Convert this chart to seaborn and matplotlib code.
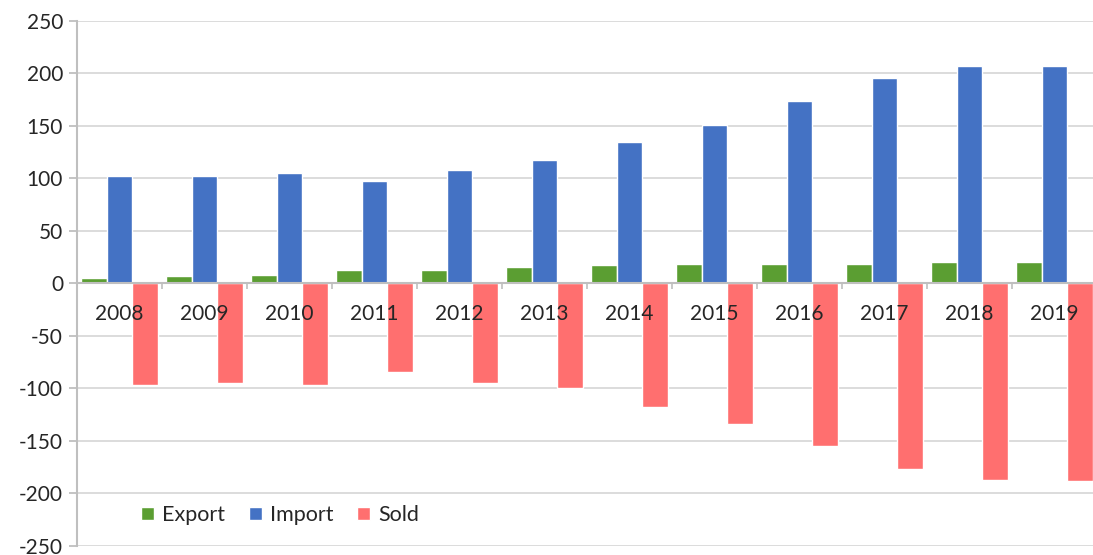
import numpy as np
import pandas as pd
import matplotlib
matplotlib.use("Agg")
import matplotlib.pyplot as plt
import seaborn as sns

years = ["2008", "2009", "2010", "2011", "2012", "2013", "2014", "2015", "2016", "2017", "2018", "2019"]
export_vals = [5, 7, 8, 13, 13, 16, 17, 18, 18, 18, 20, 20]
import_vals = [102, 102, 105, 97, 108, 117, 135, 151, 174, 195, 207, 207]
sold_vals = [-97, -95, -97, -84, -95, -100, -118, -134, -155, -177, -187, -188]
series_names = ["Export", "Import", "Sold"]
colors = ["#5B9E32", "#4472C4", "#FF6F6F"]

df = pd.DataFrame({
    "Year": years * 3,
    "Value": export_vals + import_vals + sold_vals,
    "Series": [series_names[0]] * 12 + [series_names[1]] * 12 + [series_names[2]] * 12,
})

sns.set_theme(style="white")
plt.rcParams["font.family"] = ["Lato", "DejaVu Sans"]
plt.rcParams["axes.unicode_minus"] = False

fig = plt.figure(figsize=(10.93, 5.55), dpi=100)
ax = fig.add_axes([77 / 1093, 9 / 555, (1097 - 77) / 1093, (546 - 20.7) / 555])

sns.barplot(data=df, x="Year", y="Value", hue="Series", order=years,
            hue_order=series_names, palette=colors, width=0.9,
            saturation=1, ax=ax, zorder=3)

ax.set_xlim(-0.5, 11.5)
ax.set_ylim(-250, 250)
ax.set_yticks(np.arange(-250, 251, 50))
ax.yaxis.grid(True, color="#D9D9D9", linewidth=1.3)
ax.set_axisbelow(True)
ax.xaxis.set_zorder(5)
ax.set_xlabel("")
ax.set_ylabel("")

for s in ["top", "right"]:
    ax.spines[s].set_visible(False)
ax.spines["left"].set_color("#BFBFBF")
ax.spines["left"].set_linewidth(1.5)
ax.spines["bottom"].set_position(("data", 0))
ax.spines["bottom"].set_color("#BFBFBF")
ax.spines["bottom"].set_linewidth(1.5)
ax.spines["bottom"].set_zorder(4)

ax.tick_params(axis="y", which="major", direction="out", length=6, width=1.3,
               color="#BFBFBF", labelsize=15, labelcolor="#262626", pad=4, left=True)
ax.tick_params(axis="x", which="major", length=0, labelsize=15,
               labelcolor="#262626", pad=15)
ax.set_xticks(np.arange(-0.5, 12, 1), minor=True)
ax.tick_params(axis="x", which="minor", direction="out", length=4, width=1.2,
               color="#BFBFBF", bottom=True)

handles, labels = ax.get_legend_handles_labels()
ax.legend(handles, labels, loc="center left", bbox_to_anchor=(0.063, 0.059),
          ncol=3, frameon=False, fontsize=15.5, handlelength=0.58, handleheight=0.58,
          handletextpad=0.4, columnspacing=1.1, labelcolor="#262626",
          borderpad=0, borderaxespad=0)

fig.savefig("out.png", dpi=100)
